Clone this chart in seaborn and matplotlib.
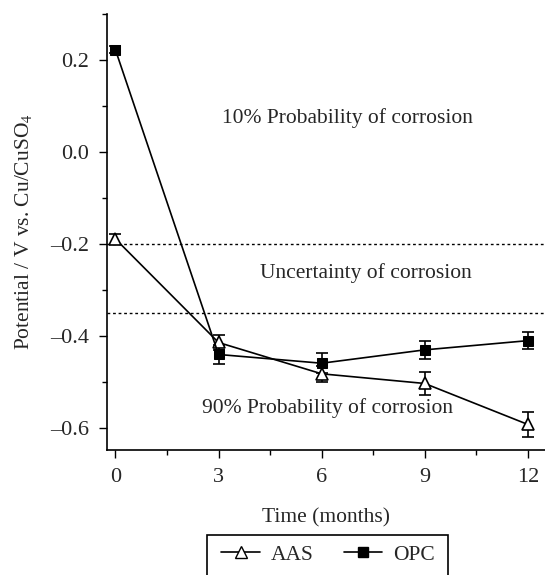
import matplotlib
matplotlib.use("Agg")
import matplotlib.pyplot as plt
import seaborn as sns
import pandas as pd
from matplotlib.ticker import MultipleLocator
from matplotlib.lines import Line2D
from matplotlib.patches import Rectangle

months = [0, 3, 6, 9, 12]
aas = [-0.189, -0.414, -0.482, -0.503, -0.592]
aas_err = [0.010, 0.016, 0.018, 0.024, 0.028]
opc = [0.222, -0.440, -0.459, -0.430, -0.410]
opc_err = [0.008, 0.020, 0.022, 0.020, 0.019]
thresholds = [-0.20, -0.35]
zone_labels = ["10% Probability of corrosion", "Uncertainty of corrosion", "90% Probability of corrosion"]

sns.set_style("ticks")
plt.rcParams["font.family"] = ["Liberation Serif", "DejaVu Serif"]
plt.rcParams["mathtext.fontset"] = "stix"
plt.rcParams["axes.unicode_minus"] = False

fig = plt.figure(figsize=(5.45, 5.75), dpi=100)
ax = fig.add_axes([0.196, 0.217, 0.804, 0.759])

df = pd.DataFrame({"month": months * 2, "pot": aas + opc,
                   "mix": ["AAS"] * 5 + ["OPC"] * 5})

sns.lineplot(data=df[df.mix == "AAS"], x="month", y="pot", ax=ax, color="black",
             marker="^", markersize=9, markerfacecolor="white", markeredgecolor="black",
             markeredgewidth=1.2, linewidth=1.2, zorder=3)
sns.lineplot(data=df[df.mix == "OPC"], x="month", y="pot", ax=ax, color="black",
             marker="s", markersize=6.5, markerfacecolor="black", markeredgecolor="black",
             linewidth=1.2, zorder=3)
ax.errorbar(months, aas, yerr=aas_err, fmt="none", ecolor="black", elinewidth=1.2,
            capsize=4, capthick=1.2, zorder=2)
ax.errorbar(months, opc, yerr=opc_err, fmt="none", ecolor="black", elinewidth=1.2,
            capsize=4, capthick=1.2, zorder=2)

for t in thresholds:
    ax.axhline(t, color="black", linestyle=(0, (2, 2)), linewidth=1.0, zorder=1)

fs = 15.5
ax.text(6.75, 0.074, zone_labels[0], ha="center", va="center", fontsize=fs)
ax.text(7.28, -0.263, zone_labels[1], ha="center", va="center", fontsize=fs)
ax.text(6.17, -0.557, zone_labels[2], ha="center", va="center", fontsize=fs)

ax.set_xlim(-0.25, 12.5)
ax.set_ylim(-0.648, 0.30)
ax.set_xticks(months)
ax.xaxis.set_minor_locator(MultipleLocator(1.5))
ax.set_yticks([-0.6, -0.4, -0.2, 0.0, 0.2])
ax.set_yticklabels(["\u20130.6", "\u20130.4", "\u20130.2", "0.0", "0.2"])
ax.yaxis.set_minor_locator(MultipleLocator(0.1))
ax.tick_params(which="major", direction="out", length=6, width=1.0, labelsize=16, color="black")
ax.tick_params(which="minor", direction="out", length=3.5, width=1.0, color="black")
ax.tick_params(axis="x", pad=7)
ax.tick_params(axis="y", pad=7)
for s in ["top", "right"]:
    ax.spines[s].set_visible(False)
for s in ["left", "bottom"]:
    ax.spines[s].set_color("black")
    ax.spines[s].set_linewidth(1.2)

ax.set_xlabel("Time (months)", fontsize=fs, labelpad=15)
ax.set_ylabel("Potential / V vs. Cu/CuSO$_4$", fontsize=fs, labelpad=11)

# legend box: open at the bottom edge of the figure, as in the reference
fig.patches.append(Rectangle((207 / 545, -0.05), 241 / 545, 0.0696 + 0.05,
                             transform=fig.transFigure, fill=False,
                             edgecolor="black", linewidth=1.2))

handles = [
    Line2D([], [], color="black", marker="^", markersize=9, markerfacecolor="white",
           markeredgecolor="black", linewidth=1.2),
    Line2D([], [], color="black", marker="s", markersize=6.5, markerfacecolor="black",
           linewidth=1.2),
]
leg = fig.legend(handles, ["AAS", "OPC"], loc="upper center", ncol=2,
                 bbox_to_anchor=(0.602, 0.0696), bbox_transform=fig.transFigure,
                 borderaxespad=0.0, frameon=False, fontsize=fs,
                 handlelength=1.8, handletextpad=0.5, columnspacing=1.4, borderpad=0.45)

fig.savefig("out.png", dpi=100)
